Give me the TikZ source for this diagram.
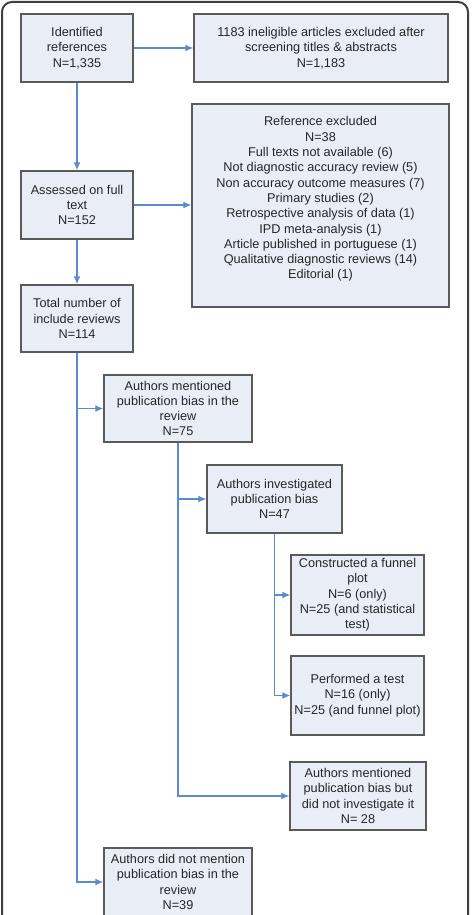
\documentclass[tikz,border=0pt]{standalone}
\usepackage{fontspec}
\setmainfont{Liberation Sans}
\usetikzlibrary{arrows.meta}
\definecolor{boxfill}{HTML}{E9EDF6}
\definecolor{boxline}{HTML}{5A5A5A}
\definecolor{flow}{HTML}{5A8AD0}
\tikzset{>={Latex[length=8pt,width=7pt]},
  box/.style={draw=boxline, line width=1.4pt, fill=boxfill, align=center,
    inner sep=0pt, text=black!85, font=\fontsize{12.7}{15.3}\selectfont},
  flowline/.style={draw=flow, line width=1.3pt}}

\begin{document}
\begin{tikzpicture}[x=1pt,y=-1pt]
\useasboundingbox (0,0) rectangle (471,915);
\clip (0,0) rectangle (471,915);
\draw[line width=2pt, draw=black!75, rounded corners=10pt] (2,2) rectangle (468,960);

\node[box, minimum width=112pt, minimum height=68pt] (ident) at (77,48) {Identified\\references\\N=1,335};
\node[box, minimum width=254pt, minimum height=68pt] (inelig) at (321,48) {1183 ineligible articles excluded after\\screening titles \& abstracts\\N=1,183};
\node[box, minimum width=257pt, minimum height=203pt] (excl) at (320.5,205.5) {Reference excluded\\N=38\\Full texts not available (6)\\Not diagnostic accuracy review (5)\\Non accuracy outcome measures (7)\\Primary studies (2)\\Retrospective analysis of data (1)\\IPD meta-analysis (1)\\Article published in portuguese (1)\\Qualitative diagnostic reviews (14)\\Editorial (1)\\\mbox{}};
\node[box, minimum width=112pt, minimum height=68pt] (full) at (77,205) {Assessed on full\\text\\N=152};
\node[box, minimum width=112pt, minimum height=67pt] (total) at (77,318.5) {Total number of\\include reviews\\N=114};
\node[box, minimum width=148pt, minimum height=67pt] (mention) at (178,408.5) {Authors mentioned\\publication bias in the\\review\\N=75};
\node[box, minimum width=135pt, minimum height=68pt] (invest) at (274.5,499) {Authors investigated\\publication bias\\N=47};
\node[box, minimum width=133pt, minimum height=80pt] (funnel) at (357.5,595) {Constructed a funnel\\plot\\N=6 (only)\\N=25 (and statistical\\test)};
\node[box, minimum width=133pt, minimum height=79pt] (test) at (357.5,695.5) {Performed a test\\N=16 (only)\\N=25 (and funnel plot)};
\node[box, minimum width=136pt, minimum height=68pt] (notinv) at (358,796) {Authors mentioned\\publication bias but\\did not investigate it\\N= 28};
\node[box, minimum width=148pt, minimum height=68pt] (nomention) at (178,882) {Authors did not mention\\publication bias in the\\review\\N=39};

% connectors
\draw[flowline, ->] (ident) -- (inelig);
\draw[flowline, ->] (ident) -- (full);
\draw[flowline, ->] (full) -- (full -| excl.west);
\draw[flowline, ->] (full) -- (total);
\draw[flowline, ->] (total.south) |- (nomention);
\draw[flowline, ->] (mention -| total.south) -- (mention);
\draw[flowline, ->] (mention.south) |- (notinv);
\draw[flowline, ->] (invest -| mention.south) -- (invest);
\draw[flowline, ->] (invest.south) |- (test);
\draw[flowline, ->] (funnel -| invest.south) -- (funnel);
\end{tikzpicture}
\end{document}
